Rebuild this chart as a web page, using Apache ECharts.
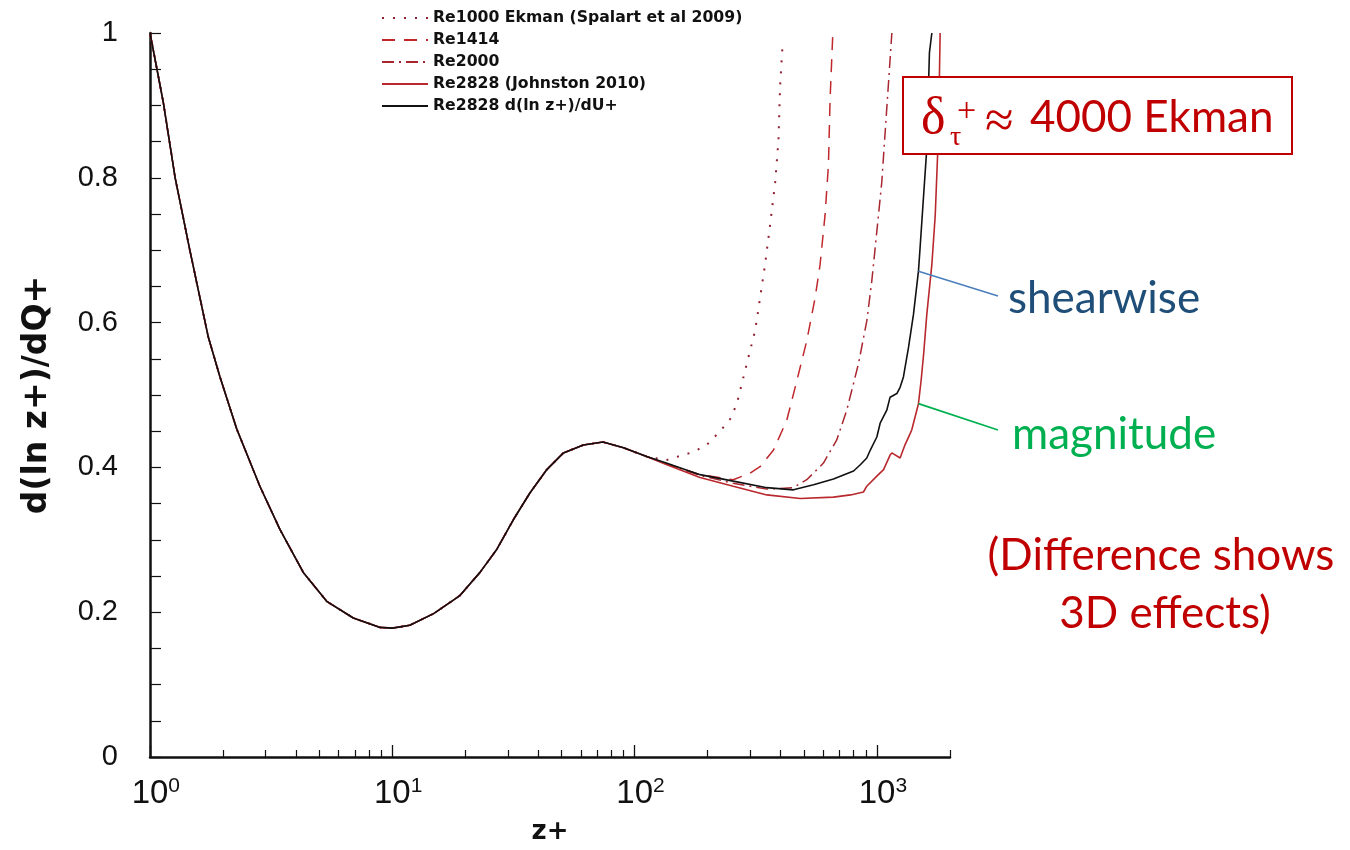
<!DOCTYPE html>
<html><head><meta charset="utf-8">
<script src="https://cdn.jsdelivr.net/npm/echarts@6/dist/echarts.min.js"></script>
<style>html,body{margin:0;padding:0;background:#fff}#c{width:1350px;height:850px}</style>
</head><body><div id="c"></div>
<script>
// ---- data ----
const seriesNames = ['Re1000 Ekman (Spalart et al 2009)', 'Re1414', 'Re2000', 'Re2828 (Johnston 2010)', 'Re2828 d(ln z+)/dU+'];

// shared near-wall part (all curves collapse here)
const zBase = [1.0, 1.135, 1.27, 1.46, 1.74, 1.94, 2.28, 2.84, 3.44, 4.29, 5.36, 6.9, 8.9, 10, 11.8, 14.8, 19, 23, 27, 31.6, 37, 43.4, 50.8, 61.4, 74, 90, 112];
const vBase = [1.0, 0.904, 0.80, 0.70, 0.58, 0.526, 0.453, 0.374, 0.314, 0.255, 0.215, 0.192, 0.179, 0.178, 0.182, 0.198, 0.223, 0.255, 0.287, 0.328, 0.365, 0.397, 0.420, 0.431, 0.435, 0.427, 0.415];

// outer parts
const zRe1000 = [135, 177, 201, 225, 248, 264, 290, 314, 329, 345, 362, 380, 392, 398, 408];
const vRe1000 = [0.410, 0.422, 0.433, 0.450, 0.467, 0.488, 0.543, 0.589, 0.634, 0.680, 0.735, 0.794, 0.853, 0.926, 0.986];

const zRe1414 = [135, 186, 255, 299, 329, 374, 424, 467, 513, 555, 582, 610, 630, 640, 657];
const vRe1414 = [0.405, 0.390, 0.383, 0.392, 0.401, 0.424, 0.465, 0.520, 0.575, 0.634, 0.680, 0.748, 0.817, 0.908, 1.0];

const zRe2000 = [135, 186, 255, 351, 450, 513, 601, 682, 750, 838, 907, 951, 998, 1046, 1080, 1115, 1151];
const vRe2000 = [0.405, 0.389, 0.378, 0.370, 0.372, 0.383, 0.406, 0.438, 0.479, 0.543, 0.602, 0.657, 0.726, 0.794, 0.863, 0.931, 1.0];

const zRe2828mag = [135, 186, 255, 351, 482, 661, 778, 879, 907, 998, 1064, 1132, 1151, 1245, 1300, 1371, 1391, 1459, 1482, 1520, 1560, 1604, 1683, 1738, 1793, 1821];
const vRe2828mag = [0.404, 0.386, 0.374, 0.362, 0.357, 0.359, 0.362, 0.366, 0.374, 0.388, 0.397, 0.417, 0.420, 0.413, 0.430, 0.447, 0.452, 0.479, 0.488, 0.520, 0.560, 0.611, 0.680, 0.748, 0.863, 1.0];

const zRe2828shear = [135, 186, 255, 351, 452, 547, 661, 800, 855, 907, 938, 998, 1030, 1097, 1132, 1207, 1246, 1285, 1349, 1413, 1482, 1505, 1553, 1604, 1625, 1645, 1683];
const vRe2828shear = [0.406, 0.390, 0.381, 0.372, 0.369, 0.376, 0.384, 0.395, 0.404, 0.413, 0.424, 0.442, 0.461, 0.479, 0.497, 0.502, 0.511, 0.525, 0.566, 0.611, 0.671, 0.703, 0.771, 0.840, 0.910, 0.973, 1.0];

const xMajorTicks = [1, 10, 100, 1000];
const xMinorTicks = [2,3,4,5,6,7,8,9,20,30,40,50,60,70,80,90,200,300,400,500,600,700,800,900,2000];

const shearAnchor = [1482, 0.671];
const magAnchor = [1482, 0.488];

// ---- build ----
function pairs(zs, vs) { return zs.map((z, i) => [z, vs[i]]); }
const base = pairs(zBase, vBase);
const dataSets = [
  base.concat(pairs(zRe1000, vRe1000)),
  base.concat(pairs(zRe1414, vRe1414)),
  base.concat(pairs(zRe2000, vRe2000)),
  base.concat(pairs(zRe2828mag, vRe2828mag)),
  base.concat(pairs(zRe2828shear, vRe2828shear))
];
const styles = [
  {color: '#8e2030', width: 2, type: [2, 9]},
  {color: '#c0282d', width: 1.5, type: [13, 9]},
  {color: '#a8262f', width: 1.5, type: [12, 5, 2, 5]},
  {color: '#b8282d', width: 1.6, type: 'solid'},
  {color: '#111111', width: 1.6, type: 'solid'}
];

const chart = echarts.init(document.getElementById('c'), null, {renderer: 'canvas'});
const tickFont = 'Liberation Sans';
const option = {
  backgroundColor: '#fff',
  animation: false,
  grid: {left: 150, right: 400, top: 33, bottom: 87, containLabel: false},
  legend: {
    orient: 'vertical', left: 376, top: 5,
    itemWidth: 46, itemHeight: 14, itemGap: 6,
    data: seriesNames,
    itemStyle: {color: 'transparent', borderColor: 'transparent', borderWidth: 0},
    textStyle: {fontFamily: 'DejaVu Sans', fontWeight: 'bold', fontSize: 15.7, color: '#111'}
  },
  xAxis: [{
    type: 'log', logBase: 10, min: 1, max: 2000,
    name: 'z+', nameLocation: 'middle', nameGap: 62,
    nameTextStyle: {fontFamily: 'DejaVu Sans', fontWeight: 'bold', fontSize: 26, color: '#111'},
    axisLine: {lineStyle: {color: '#111', width: 2.5}},
    axisTick: {inside: true, length: 12, customValues: xMajorTicks, lineStyle: {color: '#111', width: 1.3}},
    axisLabel: {
      customValues: xMajorTicks, margin: 19,
      formatter: function (v) {
        const e = Math.round(Math.log10(v));
        return '{h|' + e + '}{b|10}{s|' + e + '}';
      },
      rich: {
        b: {fontFamily: tickFont, fontSize: 33, lineHeight: 36, color: '#111'},
        s: {fontFamily: tickFont, fontSize: 21, lineHeight: 21, color: '#111', verticalAlign: 'top'},
        h: {fontFamily: tickFont, fontSize: 21, lineHeight: 21, color: 'transparent', verticalAlign: 'top'}
      }
    },
    splitLine: {show: false}, minorSplitLine: {show: false}
  }, {
    type: 'log', logBase: 10, min: 1, max: 2000, position: 'bottom', gridIndex: 0,
    axisLine: {show: false},
    axisTick: {inside: true, length: 7, customValues: xMinorTicks, lineStyle: {color: '#111', width: 1.2}},
    axisLabel: {show: false},
    splitLine: {show: false}
  }],
  yAxis: {
    type: 'value', min: 0, max: 1, interval: 0.2,
    name: 'd(ln z+)/dQ+', nameLocation: 'middle', nameGap: 96, nameRotate: 90,
    nameTextStyle: {fontFamily: 'DejaVu Sans', fontWeight: 'bold', fontSize: 33, color: '#111'},
    axisLine: {show: true, lineStyle: {color: '#111', width: 2.5}},
    axisTick: {show: true, inside: true, length: 11, lineStyle: {color: '#111', width: 1.2}},
    minorTick: {show: true, splitNumber: 4, length: 11, lineStyle: {color: '#111', width: 1.2}},
    axisLabel: {fontFamily: tickFont, fontSize: 29, color: '#111', margin: 32},
    splitLine: {show: false}
  },
  series: seriesNames.map((n, i) => ({
    name: n, type: 'line', xAxisIndex: 0, data: dataSets[i],
    showSymbol: false, symbol: 'none', smooth: false,
    lineStyle: styles[i], itemStyle: {color: styles[i].color},
    emphasis: {disabled: true}, z: 2 + i
  }))
};
chart.setOption(option);

const sA = chart.convertToPixel({xAxisIndex: 0, yAxisIndex: 0}, shearAnchor);
const mA = chart.convertToPixel({xAxisIndex: 0, yAxisIndex: 0}, magAnchor);
const red = '#c00000';
chart.setOption({
  graphic: [
    {type: 'line', z: 50, shape: {x1: sA[0], y1: sA[1], x2: 998, y2: 296}, style: {stroke: '#4a7ebb', lineWidth: 1.5}},
    {type: 'line', z: 50, shape: {x1: mA[0], y1: mA[1], x2: 998, y2: 430}, style: {stroke: '#00b050', lineWidth: 1.8}},
    {type: 'text', z: 50, x: 1008, y: 277, style: {text: 'shearwise', font: '44px Lato', fill: '#1f4e79'}},
    {type: 'text', z: 50, x: 1012, y: 413, style: {text: 'magnitude', font: '44px Lato', fill: '#00b050'}},
    {type: 'text', z: 50, x: 1161, y: 534, style: {text: '(Difference shows', font: '44px Lato', fill: red, align: 'center'}},
    {type: 'text', z: 50, x: 1165, y: 592, style: {text: '3D effects)', font: '44px Lato', fill: red, align: 'center'}},
    {type: 'rect', z: 60, shape: {x: 903, y: 77, width: 389, height: 77}, style: {fill: '#fff', stroke: red, lineWidth: 2}},
    {type: 'text', z: 61, x: 921, y: 93, style: {text: 'δ', font: '52px "Liberation Serif"', fill: red}},
    {type: 'text', z: 61, x: 950, y: 124, style: {text: 'τ', font: '28px "Liberation Serif"', fill: red}},
    {type: 'text', z: 61, x: 957, y: 95, style: {text: '+', font: '34px "Liberation Serif"', fill: red}},
    {type: 'text', z: 61, x: 985, y: 97, style: {text: '≈', font: '52px "Liberation Serif"', fill: red}},
    {type: 'text', z: 61, x: 1030, y: 96, style: {text: '4000 Ekman', font: '44px Lato', fill: red}}
  ]
});
</script></body></html>
